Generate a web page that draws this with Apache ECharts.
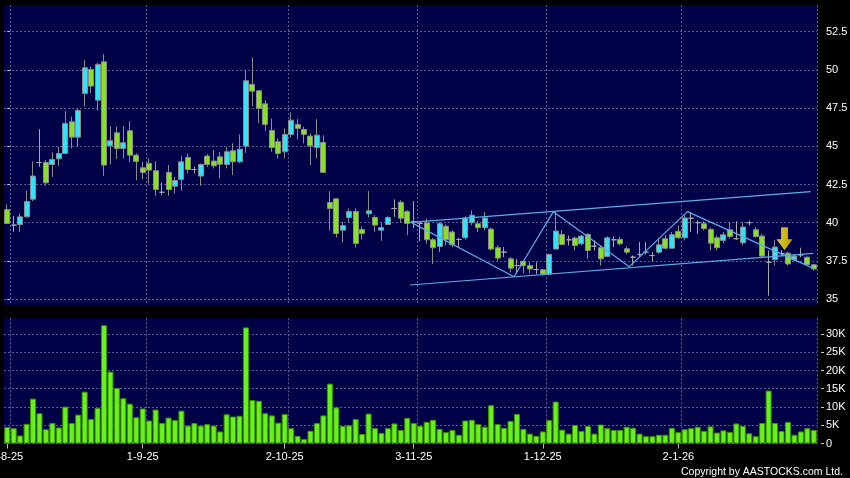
<!DOCTYPE html>
<html><head><meta charset="utf-8">
<script src="https://cdn.jsdelivr.net/npm/echarts@6/dist/echarts.min.js"></script>
<style>html,body{margin:0;padding:0;background:#000;}#c{width:850px;height:478px;}</style>
</head><body><div id="c"></div>
<script>
// ---- data ----
const dates = [
"1-8-25","4-8-25","5-8-25","6-8-25","7-8-25","8-8-25","11-8-25","12-8-25","13-8-25","14-8-25","15-8-25","18-8-25","19-8-25","20-8-25","21-8-25","22-8-25","25-8-25","26-8-25","27-8-25","28-8-25","29-8-25",
"1-9-25","2-9-25","3-9-25","4-9-25","5-9-25","8-9-25","9-9-25","10-9-25","11-9-25","12-9-25","15-9-25","16-9-25","17-9-25","18-9-25","19-9-25","22-9-25","23-9-25","24-9-25","25-9-25","26-9-25","29-9-25","30-9-25",
"2-10-25","3-10-25","6-10-25","8-10-25","9-10-25","10-10-25","13-10-25","14-10-25","15-10-25","16-10-25","17-10-25","20-10-25","21-10-25","22-10-25","23-10-25","24-10-25","27-10-25","28-10-25","30-10-25","31-10-25",
"3-11-25","4-11-25","5-11-25","6-11-25","7-11-25","10-11-25","11-11-25","12-11-25","13-11-25","14-11-25","17-11-25","18-11-25","19-11-25","20-11-25","21-11-25","24-11-25","25-11-25","26-11-25","27-11-25","28-11-25",
"1-12-25","2-12-25","3-12-25","4-12-25","5-12-25","8-12-25","9-12-25","10-12-25","11-12-25","12-12-25","15-12-25","16-12-25","17-12-25","18-12-25","19-12-25","22-12-25","23-12-25","24-12-25","29-12-25","30-12-25","31-12-25",
"2-1-26","5-1-26","6-1-26","7-1-26","8-1-26","9-1-26","12-1-26","13-1-26","14-1-26","15-1-26","16-1-26","19-1-26","20-1-26","21-1-26","22-1-26","23-1-26","26-1-26","27-1-26","28-1-26","29-1-26","30-1-26",
"2-2-26"];

const open = [40.86,39.84,39.88,40.38,41.54,43.94,43.94,43.81,44.18,44.53,46.60,45.60,48.46,50.03,48.02,50.53,45.03,45.88,44.86,46.02,44.42,43.59,43.88,43.40,41.99,43.29,42.39,42.83,44.27,43.48,43.05,44.36,44.03,44.31,43.81,44.71,43.98,45.01,49.05,48.63,47.78,46.04,45.30,44.64,45.78,46.43,46.10,45.67,44.92,45.25,
41.32,41.56,39.51,40.34,40.73,39.55,40.58,40.34,39.51,39.88,40.93,41.34,40.73,40.05,39.95,39.98,38.88,38.44,39.76,39.39,38.90,39.01,40.00,39.93,39.67,39.58,38.36,38.07,37.63,37.19,37.46,37.19,36.93,36.91,36.64,38.27,39.23,38.88,38.99,38.62,39.23,38.46,38.36,37.79,38.88,38.90,38.29,37.74,37.92,38.07,
37.85,38.07,38.95,38.33,39.43,39.01,40.29,40.00,39.93,39.56,39.01,38.84,39.54,38.95,38.68,40.00,39.54,39.12,37.41,37.59,37.98,38.00,37.57,37.89,37.74,37.24];
const close = [39.95,39.84,40.38,41.39,43.05,43.94,42.61,44.14,44.53,46.50,45.60,47.35,50.14,48.94,50.36,43.77,45.36,44.86,45.23,44.42,44.01,43.29,43.44,42.17,41.99,42.17,42.76,43.98,43.48,43.48,43.81,43.81,43.72,43.83,44.64,43.98,44.81,49.29,48.61,47.48,46.43,44.92,44.53,45.78,46.71,46.17,45.78,45.03,45.73,43.29,
40.93,39.29,39.81,40.73,38.64,39.29,40.78,39.84,39.68,40.34,40.93,40.29,39.95,40.05,39.95,38.88,38.36,39.93,38.88,38.55,38.90,40.31,40.48,39.67,40.31,38.27,37.68,38.07,37.02,37.19,37.19,36.97,36.93,36.64,37.92,39.45,38.57,38.88,38.51,39.12,38.18,38.46,37.63,39.01,38.88,38.62,38.07,37.74,37.92,38.07,
37.85,38.55,38.33,39.21,39.01,40.31,40.29,40.00,39.61,38.66,38.36,39.21,39.10,38.95,39.71,40.00,39.10,37.81,37.41,38.40,37.98,37.30,37.81,37.89,37.26,36.97];
const low = [39.90,39.40,39.40,40.35,41.41,43.66,42.41,43.00,43.72,44.50,44.86,44.97,47.59,48.46,47.33,43.07,43.81,44.16,44.20,43.98,42.78,42.85,42.57,41.76,41.80,41.76,41.91,42.09,43.22,43.22,42.41,43.66,43.55,42.89,43.55,43.11,43.88,44.57,47.63,46.50,46.02,44.64,44.20,44.20,45.58,45.45,45.19,43.77,44.20,43.25,
39.47,39.03,38.70,39.99,38.37,38.90,40.34,39.40,38.81,39.84,40.38,39.99,39.18,39.65,38.76,38.62,37.30,38.07,38.51,38.40,38.36,38.88,39.82,39.39,39.50,38.18,37.52,37.74,36.75,36.64,36.69,36.69,36.64,36.54,36.54,38.27,38.51,38.51,38.18,38.51,37.63,38.18,37.19,37.74,38.40,38.51,37.92,37.19,37.74,37.92,
37.46,37.96,38.22,38.29,38.95,38.84,39.39,39.28,39.50,38.18,38.18,38.66,38.95,38.88,38.51,39.82,39.01,37.74,35.22,37.19,37.80,37.19,37.48,37.74,37.19,36.86];
const high = [41.20,40.43,40.60,42.09,44.01,46.12,44.10,44.60,44.97,47.30,46.93,47.48,50.64,50.21,50.47,51.04,46.32,46.28,46.32,46.65,44.53,43.98,44.20,44.03,42.63,43.77,43.00,44.38,44.53,43.66,43.88,44.49,44.75,44.64,44.97,45.19,45.78,49.99,50.82,48.68,48.02,46.82,45.51,46.17,47.22,46.78,46.28,45.84,46.78,45.73,
42.06,41.60,40.05,40.93,40.93,39.77,42.07,40.49,39.99,40.43,41.52,41.47,40.82,41.42,40.00,40.26,39.01,40.04,39.89,39.50,39.01,40.42,40.81,40.11,40.70,39.67,38.51,38.40,37.74,37.63,37.52,37.41,37.41,36.97,37.96,40.70,39.50,39.17,39.10,39.21,39.32,38.84,38.51,39.10,39.10,39.06,38.44,37.85,38.73,38.73,
38.07,39.01,39.17,39.39,39.82,40.48,40.70,40.15,40.11,39.67,39.17,39.39,40.04,40.09,40.04,40.15,39.71,39.28,38.18,38.88,38.20,38.11,37.96,38.36,37.79,37.30];
// volume in thousands of shares
const volumeK = [4.5,4.2,2.2,5.4,12.3,8.3,3.9,5.6,4.4,10.1,5.6,7.9,14.2,6.7,9.7,32.4,19.7,15.2,12.4,10.9,7.2,9.6,6.3,9.3,5.6,7.1,6.4,9.0,4.9,5.6,4.9,5.3,4.9,3.3,8.0,7.4,7.6,31.8,11.9,11.7,8.3,7.7,5.7,8.1,4.2,2.1,
1.2,3.5,5.6,7.7,16.4,9.9,4.8,5.0,6.7,2.6,8.2,4.2,2.9,4.2,5.5,3.7,7.0,5.6,4.8,5.9,6.5,4.0,3.1,3.7,2.4,6.3,6.5,5.3,4.6,10.5,5.3,4.3,6.2,8.1,4.0,2.7,2.1,3.3,6.4,11.5,3.8,2.7,5.1,3.4,4.8,
2.7,5.2,4.2,3.7,3.7,4.6,4.3,2.7,2.0,2.0,2.4,2.4,4.3,3.1,3.9,4.2,4.6,3.4,4.7,3.0,3.6,3.2,5.5,4.8,2.8,2.0,5.6,14.5,5.6,3.4,5.9,2.4,3.3,4.2,3.7];

const priceTicks = [35,37.5,40,42.5,45,47.5,50,52.5];
const volumeTicks = [0,5,10,15,20,25,30];
const dateLabels = ["1-8-25","1-9-25","2-10-25","3-11-25","1-12-25","2-1-26"];

// annotation lines: [candle position, price]
const zigzag = [[62.58,40.02],[78.55,36.46],[84.64,40.72],[96.42,37.12],[105.41,40.72],[124.94,37.01]];
const channelTop = [[62.43,40.02],[124.53,42.03]];
const channelBottom = [[62.43,35.92],[124.94,37.99]];
const arrowPoint = [[120.47,38.94]];

// ---- chart ----
const N = dates.length;
const labelIdx = new Set(dateLabels.map(d => dates.indexOf(d)));
const candleData = dates.map((d, i) => [open[i], close[i], low[i], high[i]]);
const FONT = 'Liberation Sans, Arial, sans-serif';
const GRID_COLOR = '#5a5a98';
const gridLine = { show: true, lineStyle: { color: GRID_COLOR, type: [2, 2], width: 1 } };
const vSplit = { show: true, interval: (i) => labelIdx.has(i - 1), lineStyle: { color: GRID_COLOR, type: [2, 2], width: 1 } };

const chart = echarts.init(document.getElementById('c'), null, { renderer: 'canvas' });
chart.setOption({
  backgroundColor: '#000',
  animation: false,
  grid: [
    { left: 4, right: 33, top: 5, height: 300, show: true, backgroundColor: '#000046', borderWidth: 0,
      containLabel: false, outerBoundsMode: 'none' },
    { left: 4, right: 33, top: 318.3, bottom: 34.5, show: true, backgroundColor: '#000046', borderWidth: 0,
      containLabel: false, outerBoundsMode: 'none' }
  ],
  xAxis: [
    { type: 'category', gridIndex: 0, data: dates, boundaryGap: true,
      axisLine: { show: false }, axisTick: { show: false }, axisLabel: { show: false }, splitLine: vSplit },
    { type: 'category', gridIndex: 1, data: dates, boundaryGap: true,
      axisLine: { show: false },
      axisTick: { show: true, alignWithLabel: true, length: 5, interval: (i) => labelIdx.has(i), lineStyle: { color: '#bbbbbb' } },
      axisLabel: { show: true, interval: (i) => labelIdx.has(i), color: '#ffffff', fontSize: 11, fontFamily: FONT, margin: 8,
        hideOverlap: false },
      splitLine: vSplit },
    { type: 'value', gridIndex: 0, min: -0.5, max: N - 0.5, show: false }
  ],
  yAxis: [
    { type: 'value', gridIndex: 0, position: 'right', min: 34.61, max: 54.25, offset: 4,
      axisLine: { show: false },
      axisTick: { show: true, length: 3, customValues: priceTicks, lineStyle: { color: '#c8c8c8' } },
      axisLabel: { customValues: priceTicks, color: '#ffffff', fontSize: 11, fontFamily: FONT, margin: 5 },
      splitLine: gridLine },
    { type: 'value', gridIndex: 1, position: 'right', min: 0, max: 34.3, offset: 4,
      axisLine: { show: false },
      axisTick: { show: true, length: 3, customValues: volumeTicks, lineStyle: { color: '#c8c8c8' } },
      axisLabel: { customValues: volumeTicks, color: '#ffffff', fontSize: 11, fontFamily: FONT, margin: 5,
        formatter: v => v === 0 ? '0' : v + 'K' },
      splitLine: gridLine }
  ],
  graphic: [
    { type: 'text', right: 7, top: 466.5, style: { text: 'Copyright by AASTOCKS.com Ltd.', fill: '#ffffff', font: '10.5px ' + FONT } }
  ],
  series: [
    { type: 'candlestick', xAxisIndex: 0, yAxisIndex: 0, data: candleData, barWidth: 5.5,
      itemStyle: { color: '#2fe4f4', color0: '#86e222', borderColor: '#8c8c8c', borderColor0: '#8c8c8c',
        borderColorDoji: '#a8a8a8', borderWidth: 1 }, z: 2 },
    { type: 'bar', xAxisIndex: 1, yAxisIndex: 1, data: volumeK, barWidth: 6,
      itemStyle: { color: '#66f21a', borderColor: '#3f9200', borderWidth: 1 } },
    { type: 'line', xAxisIndex: 2, yAxisIndex: 0, data: zigzag, symbol: 'none', silent: true, z: 5,
      lineStyle: { color: '#5aaee8', width: 1.2 } },
    { type: 'line', xAxisIndex: 2, yAxisIndex: 0, data: channelTop, symbol: 'none', silent: true, z: 5,
      lineStyle: { color: '#5aaee8', width: 1.2 } },
    { type: 'line', xAxisIndex: 2, yAxisIndex: 0, data: channelBottom, symbol: 'none', silent: true, z: 5,
      lineStyle: { color: '#5aaee8', width: 1.2 } },
    { type: 'scatter', xAxisIndex: 2, yAxisIndex: 0, data: arrowPoint, silent: true, z: 6,
      symbol: 'path://M4.5,0 L11.5,0 L11.5,12 L16,12 L8,23 L0,12 L4.5,12 Z', symbolSize: [16, 23],
      itemStyle: { color: { type: 'linear', x: 0, y: 0, x2: 1, y2: 0,
        colorStops: [{ offset: 0, color: '#fffa70' }, { offset: 0.5, color: '#ffe800' }, { offset: 1, color: '#f5b400' }] } } }
  ]
});
</script>
</body></html>
